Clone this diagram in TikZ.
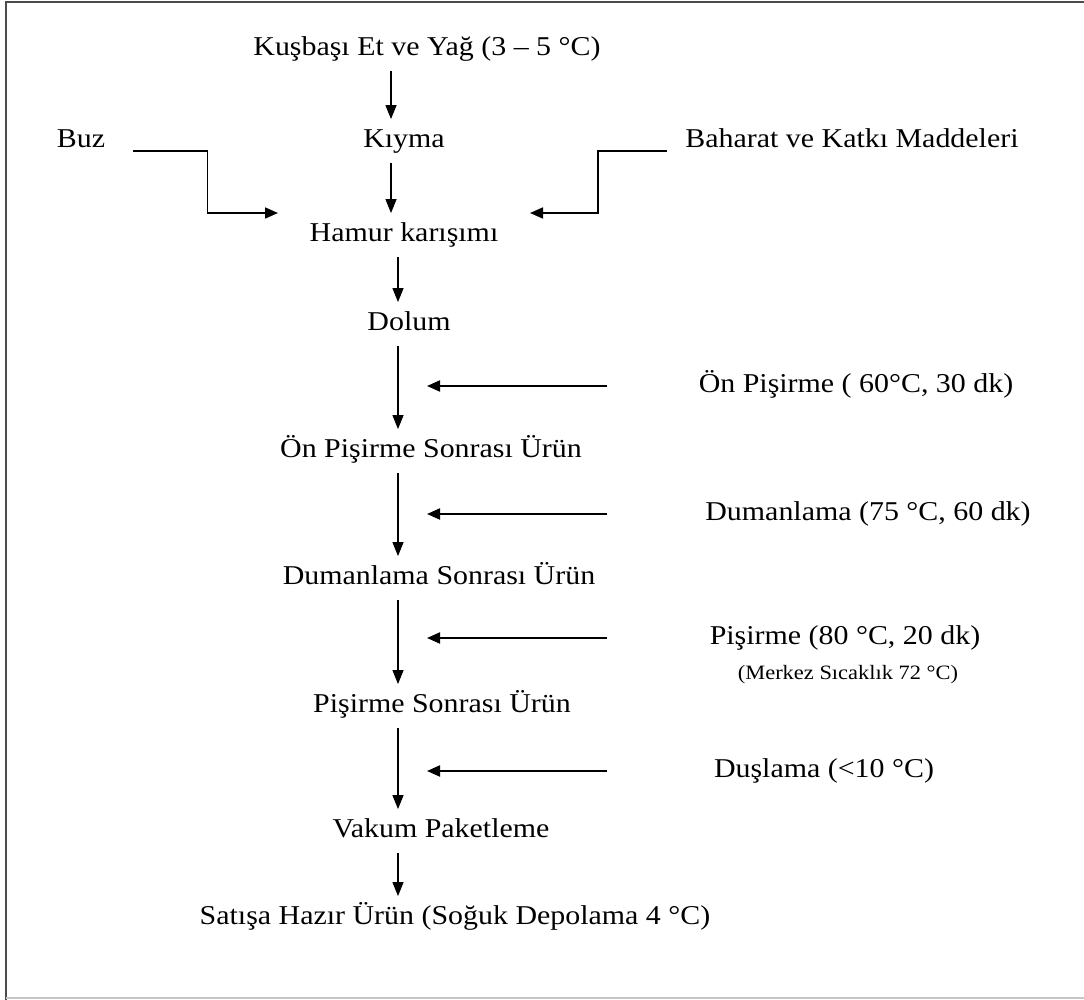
\documentclass[tikz,border=0pt]{standalone}
\usepackage{fontspec}
\setmainfont{Liberation Serif}
\usepackage{graphicx}
\usepackage{tikz}
\usetikzlibrary{arrows.meta,positioning}

\newcommand{\wide}[1]{\scalebox{1.1}[1]{#1}}

\begin{document}
\begin{tikzpicture}[
    x=0.5pt,y=-0.5pt,
    stage/.style={inner xsep=0pt,inner ysep=4.5pt,text height=9.5pt,text depth=3pt,font=\fontsize{13.6}{16}\selectfont},
    note/.style={inner sep=0pt,font=\fontsize{10.2}{12}\selectfont},
    flow/.style={line width=0.6pt,-{Triangle[length=7pt,width=5.5pt]}},
    side/.style={line width=1pt,-{Triangle[length=6.5pt,width=5.5pt]}},
    feed/.style={line width=0.8pt,-{Triangle[length=6.5pt,width=5.5pt]}}
    ]
                \useasboundingbox (0,0) rectangle (1084,1000);

                \draw[gray!60!black, line width=1.2pt] (6,1000) -- (6,2) -- (1084,2);
                \draw[gray!45, line width=1pt] (6,998) -- (1084,998);

                \node[stage] (kusbasi) at (427,49) {\wide{Kuşbaşı Et ve Yağ (3 – 5 °C)}};
                \node[stage] (kiyma) at (404,141) {\wide{Kıyma}};
                \node[stage] (buz) at (81,141) {\wide{Buz}};
                \node[stage] (baharat) at (852,141) {\wide{Baharat ve Katkı Maddeleri}};
                \node[stage] (hamur) at (404,235) {\wide{Hamur karışımı}};
                \node[stage] (dolum) at (409,324) {\wide{Dolum}};
                \node[stage] (onpisirme) at (431,451) {\wide{Ön Pişirme Sonrası Ürün}};
                \node[stage] (dumanlama) at (439,578) {\wide{Dumanlama Sonrası Ürün}};
                \node[stage] (pisirme) at (442,706) {\wide{Pişirme Sonrası Ürün}};
                \node[stage] (vakum) at (441,831) {\wide{Vakum Paketleme}};
                \node[stage] (satis) at (455,918) {\wide{Satışa Hazır Ürün (Soğuk Depolama 4 °C)}};

                \node[stage] (onpisirme-l) at (856,386) {\wide{Ön Pişirme ( 60°C, 30 dk)}};
                \node[stage] (dumanlama-l) at (868,514) {\wide{Dumanlama (75 °C, 60 dk)}};
                \node[stage] (pisirme-l) at (845,638) {\wide{Pişirme (80 °C, 20 dk)}};
                \node[note] (merkez) at (848,675) {\wide{(Merkez Sıcaklık 72 °C)}};
                \node[stage] (duslama-l) at (824,771) {\wide{Duşlama (<10 °C)}};

                \coordinate (colA) at (391,0);
                \coordinate (colB) at (398,0);
                \coordinate (src) at (607,0);
                \coordinate (dst) at (427,0);
                \coordinate (buzin) at (278,213);
                \coordinate (bahin) at (530,213);

                \draw[flow] (kusbasi.south -| colA) -- (kiyma.north -| colA);
                \draw[flow] (kiyma.south -| colA) -- (hamur.north -| colA);
                \draw[flow] (hamur.south -| colB) -- (dolum.north -| colB);
                \draw[flow] (dolum.south -| colB) -- (onpisirme.north -| colB);
                \draw[flow] (onpisirme.south -| colB) -- (dumanlama.north -| colB);
                \draw[flow] (dumanlama.south -| colB) -- (pisirme.north -| colB);
                \draw[flow] (pisirme.south -| colB) -- (vakum.north -| colB);
                \draw[flow] (vakum.south -| colB) -- (satis.north -| colB);

                \draw[feed] (buz.east) ++(28,10) -- ++(74,0) |- (buzin);
                \draw[feed] (baharat.west) ++(-18,10) -- ++(-69,0) |- (bahin);

                \draw[side] (onpisirme-l -| src) -- (onpisirme-l -| dst);
                \draw[side] (dumanlama-l -| src) -- (dumanlama-l -| dst);
                \draw[side] (pisirme-l -| src) -- (pisirme-l -| dst);
                \draw[side] (duslama-l -| src) -- (duslama-l -| dst);
\end{tikzpicture}
\end{document}
